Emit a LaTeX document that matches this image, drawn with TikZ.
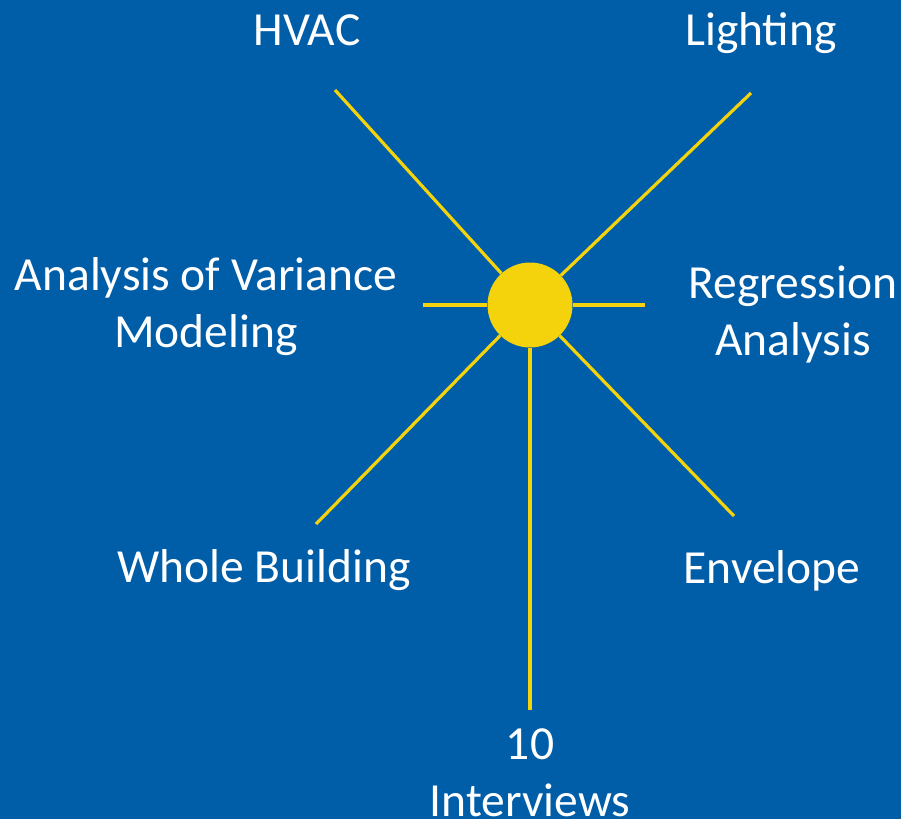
\documentclass[tikz,border=0pt]{standalone}
\usepackage{fontspec}
\setmainfont{Carlito}
\definecolor{bgblue}{RGB}{0,93,168}
\definecolor{sunyellow}{RGB}{245,211,12}
\begin{document}
\begin{tikzpicture}[x=1pt,y=-1pt,
  ray/.style={draw=sunyellow,line width=3.2pt},
  lbl/.style={text=white,font=\fontsize{47.5}{57}\selectfont,align=center,inner sep=0pt,anchor=base}]
\fill[bgblue] (0,0) rectangle (901,819);
\useasboundingbox (0,0) rectangle (901,819);
\node[circle,fill=sunyellow,minimum size=85pt,inner sep=0pt] (sun) at (530,305) {};
\coordinate (ul) at (335,90);
\coordinate (ur) at (751,93);
\coordinate (ll) at (316,524);
\coordinate (lr) at (734,516);
\coordinate (l) at (423,305);
\coordinate (r) at (645,305);
\coordinate (d) at (530,710);
\foreach \p in {ul,ur,ll,lr,l,r,d} \draw[ray] (\p) -- (sun);
\node[lbl] (hvac) at (307,45) {HVAC};
\node[lbl] (light) at (761,45) {Lighting};
\node[lbl] (anova) at (206,347) {Analysis of Variance\\Modeling};
\node[lbl] (regr) at (793,355) {Regression\\Analysis};
\node[lbl] (whole) at (264,582) {Whole Building};
\node[lbl] (env) at (772,583) {Envelope};
\node[lbl] (intv) at (530,816) {10\\Interviews};
\end{tikzpicture}
\end{document}
